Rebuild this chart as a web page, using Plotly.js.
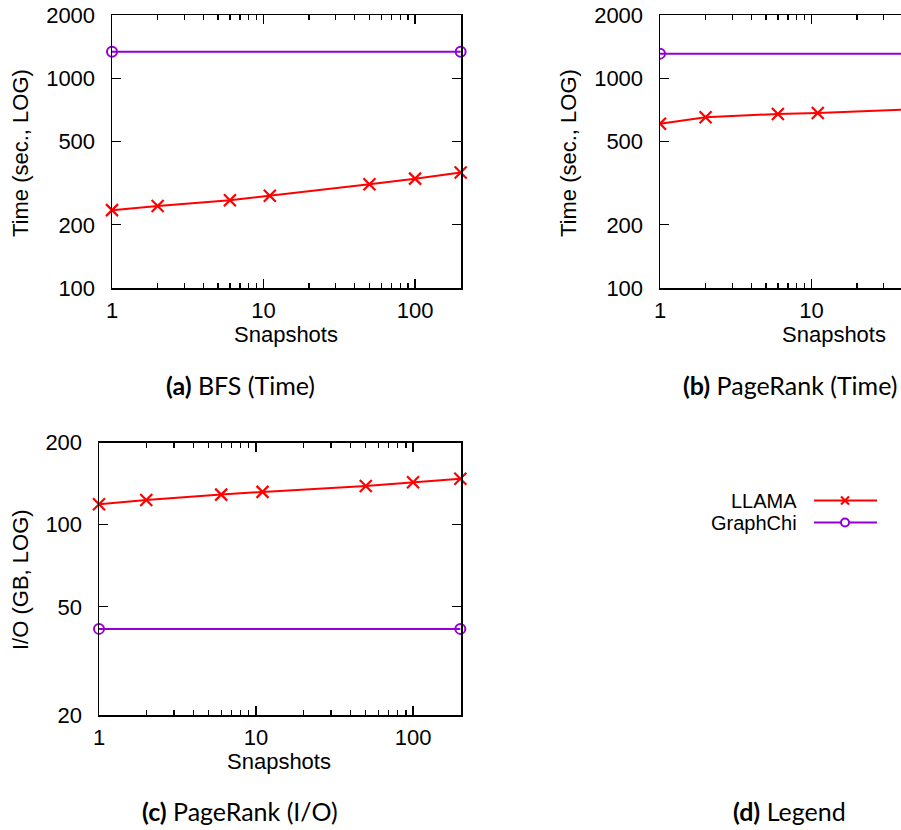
<!DOCTYPE html>
<html><head><meta charset="utf-8">
<script src="https://cdn.plot.ly/plotly-3.0.1.min.js"></script>
<style>html,body{margin:0;padding:0;background:#fff;overflow:hidden}</style>
</head><body><div id="chart" style="width:901px;height:830px"></div>
<script>
// ---- data ----
const snapshots = [1, 2, 6, 11, 50, 100, 200];
const graphchiX = [1, 200];
const bfsLlama = [235, 246, 262, 275, 312, 332, 355];
const bfsGraphchi = [1337, 1337];
const prLlama = [607, 651, 675, 683, 713, 730, 750];
const prGraphchi = [1309, 1309];
const ioLlama = [119, 123.3, 129, 132, 138.7, 143.2, 147.6];
const ioGraphchi = [41.5, 41.5];
const timeTicks = [100, 200, 500, 1000, 2000];
const ioTicks = [20, 50, 100, 200];
const xTicks = [1, 10, 100];
const xMinor = [2,3,4,5,6,7,8,9,20,30,40,50,60,70,80,90,200];

const W = 901, H = 830;
const px = v => v / W, py = v => 1 - v / H;
const RED = '#ff0000', VIO = '#9400d3';
const tickFont = {family: 'Liberation Sans, Arial, sans-serif', size: 22, color: '#000'};
const legFont = {family: 'Liberation Sans, Arial, sans-serif', size: 20, color: '#000'};

function llama(x, y, xa, ya) {
  return {x, y, xaxis: xa, yaxis: ya, type: 'scatter', mode: 'lines+markers',
    line: {color: RED, width: 2}, marker: {symbol: 'x-thin-open', size: 12, color: RED, line: {color: RED, width: 2.2}},
    showlegend: false, cliponaxis: false};
}
function gchi(x, y, xa, ya) {
  return {x, y, xaxis: xa, yaxis: ya, type: 'scatter', mode: 'lines+markers',
    line: {color: VIO, width: 2}, marker: {symbol: 'circle-open', size: 10, color: VIO, line: {color: VIO, width: 2}},
    showlegend: false, cliponaxis: false};
}
function xax(dom, range, anchor, mirror) {
  return {type: 'log', domain: dom, range: range, anchor: anchor,
    tickmode: 'array', tickvals: xTicks, ticktext: xTicks.map(String),
    ticks: 'inside', ticklen: 9, tickwidth: 1.3, tickcolor: '#000',
    minor: {tickmode: 'array', tickvals: xMinor, ticks: 'inside', ticklen: 5, tickwidth: 1.3, tickcolor: '#000', showgrid: false},
    showline: true, linecolor: '#000', linewidth: 1.5, mirror: mirror,
    showgrid: false, zeroline: false, tickfont: tickFont, ticklabelstandoff: 2};
}
function yax(dom, range, anchor, ticks, mirror) {
  return {type: 'log', domain: dom, range: range, anchor: anchor,
    tickmode: 'array', tickvals: ticks, ticktext: ticks.map(String),
    ticks: 'inside', ticklen: 9, tickwidth: 1.3, tickcolor: '#000',
    showline: true, linecolor: '#000', linewidth: 1.5, mirror: mirror,
    showgrid: false, zeroline: false, tickfont: tickFont, ticklabelstandoff: 11};
}

const data = [
  gchi(graphchiX, bfsGraphchi, 'x', 'y'),
  llama(snapshots, bfsLlama, 'x', 'y'),
  gchi(graphchiX, prGraphchi, 'x2', 'y2'),
  llama(snapshots, prLlama, 'x2', 'y2'),
  gchi(graphchiX, ioGraphchi, 'x3', 'y3'),
  llama(snapshots, ioLlama, 'x3', 'y3')
];
data[2].cliponaxis = true; data[3].cliponaxis = true;

const lx = Math.log10;
const ann = (text, x, y, opts) => Object.assign({text, x: px(x), y: py(y), xref: 'paper', yref: 'paper',
  showarrow: false, xanchor: 'center', yanchor: 'middle', font: tickFont}, opts || {});
const capFont = {family: 'Lato, sans-serif', size: 25, color: '#000'};

const layout = {
  width: W, height: H, margin: {l: 0, r: 0, t: 0, b: 0},
  paper_bgcolor: '#fff', plot_bgcolor: 'rgba(0,0,0,0)', showlegend: false,
  xaxis: xax([px(112), px(461)], [0, lx(201)], 'y', 'ticks'),
  yaxis: yax([py(288), py(15)], [2, lx(2000)], 'x', timeTicks, 'ticks'),
  xaxis2: xax([px(660), 1], [0, (901 - 660) / 151.5], 'y2', 'ticks'),
  yaxis2: yax([py(288), py(15)], [2, lx(2000)], 'x2', timeTicks, false),
  xaxis3: xax([px(99), px(461)], [0, lx(202)], 'y3', 'ticks'),
  yaxis3: yax([py(715.3), py(442.7)], [lx(20), lx(200)], 'x3', ioTicks, 'ticks'),
  annotations: [
    ann('Time (sec., LOG)', 20, 153, {textangle: -90}),
    ann('Snapshots', 286, 334),
    ann('Time (sec., LOG)', 568, 153, {textangle: -90}),
    ann('Snapshots', 834, 334),
    ann('I/O (GB, LOG)', 20, 580, {textangle: -90}),
    ann('Snapshots', 279, 761),
    ann('<b>(a)</b> BFS (Time)', 240, 385, {font: capFont}),
    ann('<b>(b)</b> PageRank (Time)', 790, 385, {font: capFont}),
    ann('<b>(c)</b> PageRank (I/O)', 240, 811, {font: capFont}),
    ann('<b>(d)</b> Legend', 789, 811, {font: capFont}),
    ann('LLAMA', 799, 501, {xanchor: 'right', font: legFont}),
    ann('GraphChi', 799, 523, {xanchor: 'right', font: legFont})
  ],
  shapes: [
    {type: 'line', xref: 'paper', yref: 'paper', x0: px(814), x1: px(877), y0: py(500.5), y1: py(500.5), line: {color: RED, width: 2}},
    {type: 'line', xref: 'paper', yref: 'paper', x0: px(841), x1: px(849), y0: py(496.5), y1: py(504.5), line: {color: RED, width: 2.2}},
    {type: 'line', xref: 'paper', yref: 'paper', x0: px(841), x1: px(849), y0: py(504.5), y1: py(496.5), line: {color: RED, width: 2.2}},
    {type: 'line', xref: 'paper', yref: 'paper', x0: px(814), x1: px(877), y0: py(522.5), y1: py(522.5), line: {color: VIO, width: 2}},
    {type: 'circle', xref: 'paper', yref: 'paper', x0: px(841), x1: px(849), y0: py(518.5), y1: py(526.5), fillcolor: '#fff', line: {color: VIO, width: 2}}
  ]
};
Plotly.newPlot('chart', data, layout, {displayModeBar: false, staticPlot: true});
</script></body></html>
